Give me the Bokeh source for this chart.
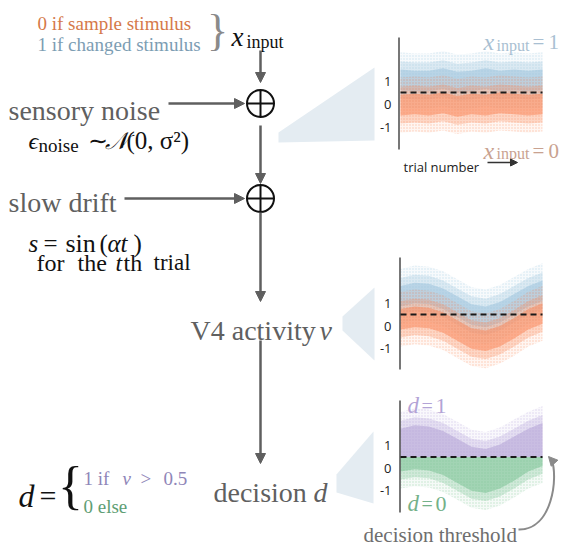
from bokeh.plotting import figure
from bokeh.models import Range1d, Arrow, NormalHead
from bokeh.core.properties import value
from bokeh.embed import file_html
from bokeh.resources import INLINE

# ---------------- data ----------------
trials = [0, 100, 200, 300, 400, 500, 600, 700, 800, 900, 1000]
# panel 1: input + sensory noise (no drift)
noise_blue_center = [1.05, 1.0, 1.0, 1.1, 0.95, 1.0, 1.1, 1.0, 1.05, 1.0, 1.05]
noise_orange_center = [-0.05, 0.0, -0.05, 0.05, -0.1, 0.0, -0.05, 0.05, 0.0, -0.05, 0.0]
# panel 2: V4 activity (input + noise + slow drift)
v4_blue_center = [1.3, 1.45, 1.4, 1.2, 0.85, 0.5, 0.4, 0.6, 0.95, 1.3, 1.55]
v4_orange_center = [0.3, 0.4, 0.35, 0.15, -0.2, -0.55, -0.65, -0.45, -0.1, 0.3, 0.55]
threshold = 0.5
core_spread = 0.45
mid_spread = 0.8
outer_spread = 1.2
tick_values = [1, 0, -1]
tick_labels = ["1", "0", "-1"]

# ---------------- styling ----------------
SERIF = "Liberation Serif"
SANS = "Open Sans"
GRAY = "#606060"
INK = "#111111"
ARROW_C = "#5f5f5f"
BLUE = "#9cc3dc"
ORANGE = "#f98a5e"
PURPLE = "#b3a3d6"
GREEN = "#7cc395"
WEDGE = "#e4ecf2"

W, H = 560, 546
p = figure(width=W, height=H, x_range=Range1d(0, W), y_range=Range1d(H, 0),
           output_backend="svg", toolbar_location=None, x_axis_type=None, y_axis_type=None,
           min_border=0)
p.outline_line_color = None
p.background_fill_color = "white"
p.border_fill_color = "white"


def trial_range(px_left, px_right):
    a = (px_right - px_left) / (trials[-1] - trials[0])
    start = trials[0] - px_left / a
    return Range1d(start, start + W / a)


def value_range(py_zero, unit):
    return Range1d((py_zero - H) / unit, py_zero / unit)


p.extra_x_ranges = {"t": trial_range(400, 542)}
panels = {
    "p1": dict(zero=103.5, unit=23.0, axis_x=398.5, top=37, bottom=149),
    "p2": dict(zero=325.5, unit=22.8, axis_x=399.5, top=257, bottom=369),
    "p3": dict(zero=467.7, unit=22.6, axis_x=399.5, top=400, bottom=512),
}
p.extra_y_ranges = {k: value_range(v["zero"], v["unit"]) for k, v in panels.items()}


def lim(name):
    v = panels[name]
    return (v["zero"] - v["bottom"]) / v["unit"], (v["zero"] - v["top"]) / v["unit"]


def txt(x, y, s, size, color, style="normal", align="left", font=SERIF, baseline="alphabetic"):
    p.text(x=[x], y=[y], text=[s], text_font=value(font), text_font_size=f"{size}px",
           text_color=color, text_font_style=style, text_align=align, text_baseline=baseline)


def arrow(x0, y0, x1, y1, color=ARROW_C, w=2.5, head=10):
    p.add_layout(Arrow(x_start=x0, y_start=y0, x_end=x1, y_end=y1, line_color=color, line_width=w,
                       end=NormalHead(size=head, fill_color=color, line_color=color, line_width=1)))


def band(yr, lo, hi, color, alpha, hatch=False):
    kw = {}
    if hatch:
        kw = dict(hatch_pattern="dot", hatch_color=color, hatch_scale=3, hatch_weight=1.2, hatch_alpha=0.45)
    p.varea(x=trials, y1=lo, y2=hi, fill_color=color, fill_alpha=alpha,
            x_range_name="t", y_range_name=yr, **kw)


LAYERS = [(outer_spread, 0.08, True), (mid_spread, 0.3, False), (core_spread, 0.55, False)]


def cloud(yr, center, color):
    bot, top = lim(yr)
    for spread, alpha, hatch in LAYERS:
        band(yr, [max(c - spread, bot) for c in center], [min(c + spread, top) for c in center],
             color, alpha, hatch)


def cloud_above(yr, center, color):
    bot, top = lim(yr)
    for spread, alpha, hatch in LAYERS:
        band(yr, [threshold] * len(center), [max(threshold, min(c + spread, top)) for c in center],
             color, alpha, hatch)


def cloud_below(yr, center, color):
    bot, top = lim(yr)
    for spread, alpha, hatch in LAYERS:
        band(yr, [min(threshold, max(c - spread, bot)) for c in center], [threshold] * len(center),
             color, alpha, hatch)


# ---------------- wedges ----------------
p.patch(x=[278, 374, 374, 278], y=[132, 67, 140, 142], fill_color=WEDGE, line_color=None)
p.patch(x=[342, 374, 374, 342], y=[316, 287, 360, 330], fill_color=WEDGE, line_color=None)
p.patch(x=[336, 373, 373, 336], y=[474, 431, 503, 492], fill_color=WEDGE, line_color=None)

# ---------------- panels ----------------
cloud("p1", noise_blue_center, BLUE)
cloud("p1", noise_orange_center, ORANGE)
cloud("p2", v4_blue_center, BLUE)
cloud("p2", v4_orange_center, ORANGE)
cloud_above("p3", v4_blue_center, PURPLE)
cloud_below("p3", v4_orange_center, GREEN)

for name, v in panels.items():
    p.segment(x0=[v["axis_x"]], y0=[v["top"]], x1=[v["axis_x"]], y1=[v["bottom"]],
              line_color="#4a4a4a", line_width=1.5)
    p.line(x=[trials[0], trials[-1]], y=[threshold, threshold], x_range_name="t", y_range_name=name,
           line_color="#1a1a1a", line_width=2, line_dash="6 4")
    p.text(x=[391] * 3, y=tick_values, text=tick_labels, y_range_name=name,
           text_font=value(SANS), text_font_size="13px", text_color="#222222",
           text_align="right", text_baseline="middle")

# panel labels
LB = "#a9bfd2"
LO = "#c9a290"
txt(483, 41.7, "x", 24, LB, "italic")
txt(496, 44.5, "input", 16, LB)
txt(532, 41.7, "=", 21, LB)
txt(548, 41.7, "1", 21, LB)
txt(483, 150, "x", 24, LO, "italic")
txt(496, 152.8, "input", 16, LO)
txt(532, 150, "=", 21, LO)
txt(548, 150, "0", 21, LO)
txt(403, 166.5, "trial number", 13, "#222222", font=SANS)
arrow(487, 162, 517, 162, color="#333333", w=1.3, head=7)
txt(407, 405, "d", 23, PURPLE, "italic")
txt(421, 405, "=", 20, PURPLE)
txt(435, 405, "1", 22, PURPLE)
txt(407, 503.3, "d", 23, "#74b189", "italic")
txt(421, 503.3, "=", 20, "#74b189")
txt(435, 503.3, "0", 22, "#74b189")
txt(363, 534, "decision threshold", 21, "#6e6e6e")
p.bezier(x0=[518], y0=[529], x1=[551], y1=[459], cx0=[552], cy0=[530], cx1=[558], cy1=[476],
         line_color="#8a8a8a", line_width=2)
arrow(552.5, 461, 548, 456, color="#8a8a8a", w=0.1, head=9)

# ---------------- left diagram ----------------
txt(37, 23.3, "0  if sample stimulus", 19, "#d5794a")
txt(37, 44.3, "1  if changed stimulus", 19, "#7c9db3")
txt(217, 30, "}", 44, "#8a8a8a", baseline="middle", align="center")
txt(231, 36.7, "x", 27, INK, "italic")
txt(246, 41.7, "input", 18, INK)

arrow(260, 50, 260, 82)
p.scatter(x=[260, 260], y=[103, 198], marker="circle_cross", size=27, fill_color="white",
          line_color=INK, line_width=2)
txt(8, 110, "sensory noise", 28, GRAY)
arrow(168, 103, 244, 103)
txt(28, 140, "ϵ", 24, INK, "italic")
txt(38, 145, "noise", 19, INK)
txt(87, 140, "∼", 24, INK)
txt(104, 140, "𝒩", 24, INK, "italic")
txt(126, 140, "(0, σ²)", 25, INK)
arrow(260, 125, 260, 183)
txt(8, 202, "slow drift", 28, GRAY)
arrow(124, 198, 244, 198)
txt(28, 243, "s", 25, INK, "italic")
txt(43, 243, "=", 25, INK)
txt(65, 243, "sin", 26, INK)
txt(99, 243, "(", 25, INK)
txt(107, 243, "αt", 25, INK, "italic")
txt(133, 243, ")", 25, INK)
txt(36, 262, "for", 24, INK)
txt(77, 262, "the", 24, INK)
txt(115, 262, "t", 24, INK, "italic")
txt(123, 262, "th", 24, INK)
txt(153, 262, "trial", 23, INK)
arrow(260, 212, 260, 301)
txt(190, 330, "V4 activity", 28, GRAY)
txt(319, 330, "v", 28, GRAY, "italic")
arrow(260, 340, 260, 463)
txt(213, 491.7, "decision", 28, GRAY)
txt(313, 491.7, "d", 28, GRAY, "italic")
txt(18, 495, "d", 32, INK, "italic")
txt(39, 495, "=", 30, INK)
txt(70, 485, "{", 52, INK, baseline="middle", align="center")
PUR_T = "#8f86b8"
GRN_T = "#5e9e74"
txt(83, 478.3, "1  if", 19, PUR_T)
txt(122, 478.3, "v", 19, PUR_T, "italic")
txt(140, 478.3, ">", 19, PUR_T)
txt(163, 478.3, "0.5", 19, PUR_T)
txt(83, 506, "0  else", 19, GRN_T)

open("out.html", "w").write(file_html(p, INLINE))
